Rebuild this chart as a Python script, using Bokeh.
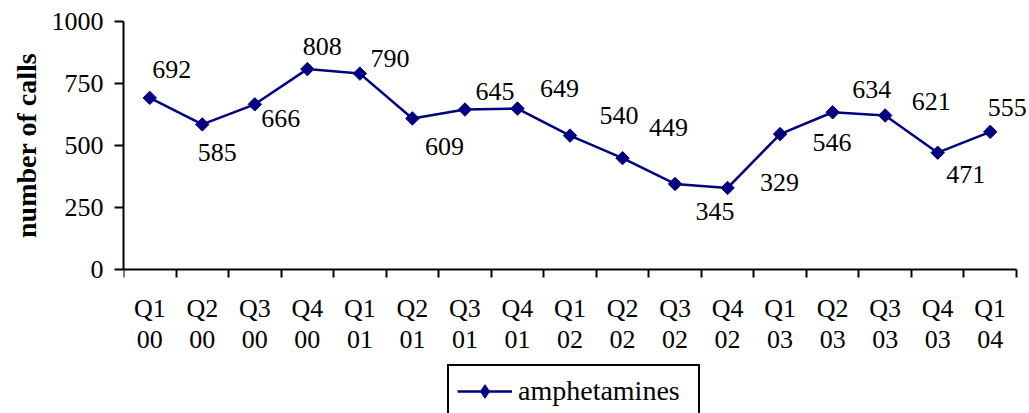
import numpy as np
from bokeh.plotting import figure
from bokeh.models import (ColumnDataSource, LinearAxis, FixedTicker, Range1d,
                          Legend, LegendItem, Title)
from bokeh.core.properties import value
from bokeh.embed import file_html
from bokeh.resources import INLINE

# ---------------- data ----------------
quarters = ["Q1", "Q2", "Q3", "Q4", "Q1", "Q2", "Q3", "Q4", "Q1", "Q2", "Q3", "Q4",
            "Q1", "Q2", "Q3", "Q4", "Q1"]
years = ["00", "00", "00", "00", "01", "01", "01", "01", "02", "02", "02", "02",
         "03", "03", "03", "03", "04"]
amphetamines = [692, 585, 666, 808, 790, 609, 645, 649, 540, 449, 345, 329,
                546, 634, 621, 471, 555]
y_ticks = [0, 250, 500, 750, 1000]
series_name = "amphetamines"
y_title = "number of calls"

# ---------------- style / layout ----------------
FONT = "Liberation Serif"
NAVY = "#000080"
# screen-pixel offsets of the value labels from their points (style only)
label_dx = [22, 15, 26, 15, 30, 32, 30, 42, 49, 46, 40, 52, 52, 39, 46, 28, 17]
label_dy = [-28, 28, 14, -23, -15, 28, -18, -20, -20, -31, 28, -5, 8, -23, -14, 22, -24]

W, H = 1029, 413
LEFT, TOP = 123, 21          # frame offsets
AXIS_W, AXIS_H = 893, 248    # pixel extent of the category axis / value axis
TITLE_LEN = 185              # approx. pixel length of the y title text

n = len(amphetamines)
y_max = y_ticks[-1]
frame_w = W - LEFT
frame_h = H - TOP
x_end = n * frame_w / AXIS_W
y_lo = y_max - y_max * frame_h / AXIS_H

xpos = [i + 0.5 for i in range(n)]

src = ColumnDataSource(dict(
    x=xpos, y=amphetamines, label=[str(v) for v in amphetamines],
    dx=label_dx, dy=label_dy))

p = figure(frame_width=frame_w, frame_height=frame_h,
           x_range=Range1d(0, x_end), y_range=Range1d(y_lo, y_max),
           output_backend="svg", toolbar_location=None, x_axis_location=None,
           min_border_left=LEFT, min_border_top=TOP, min_border_right=0,
           min_border_bottom=0,
           background_fill_color="white", border_fill_color="white",
           outline_line_color=None)
p.grid.visible = False

# y axis
ya = p.yaxis[0]
ya.ticker = FixedTicker(ticks=y_ticks, minor_ticks=[])
ya.bounds = (0, y_max)
ya.axis_line_width = 2
ya.axis_line_color = "black"
ya.major_tick_line_width = 2
ya.major_tick_out = 9
ya.major_tick_in = 0
ya.major_label_standoff = 11
ya.major_label_text_font = FONT
ya.major_label_text_font_size = "26px"
ya.major_label_text_color = "black"

# y title, centred on the value axis (not on the taller frame)
ytitle = Title(text=y_title, align="left",
               offset=frame_h - AXIS_H / 2 - TITLE_LEN / 2,
               text_font=FONT, text_font_size="28px", text_font_style="bold",
               text_color="black", standoff=14)
p.add_layout(ytitle, "left")

# x axis: quarter row with boundary ticks, fixed at y = 0
xa1 = LinearAxis(
    fixed_location=0, bounds=(0, n),
    ticker=FixedTicker(ticks=xpos, minor_ticks=list(range(n + 1))),
    major_label_overrides={xv: q for xv, q in zip(xpos, quarters)},
    axis_line_width=2, axis_line_color="black",
    major_tick_out=0, major_tick_in=0,
    minor_tick_out=8, minor_tick_in=0, minor_tick_line_width=2,
    minor_tick_line_color="black",
    major_label_standoff=16,
    major_label_text_font=FONT, major_label_text_font_size="26px",
    major_label_text_color="black")
p.add_layout(xa1, "below")

# x axis: year row
xa2 = LinearAxis(
    fixed_location=0, bounds=(0, n),
    ticker=FixedTicker(ticks=xpos, minor_ticks=[]),
    major_label_overrides={xv: y for xv, y in zip(xpos, years)},
    axis_line_color=None, major_tick_line_color=None, minor_tick_line_color=None,
    major_tick_out=0, major_tick_in=0,
    major_label_standoff=61,
    major_label_text_font=FONT, major_label_text_font_size="26px",
    major_label_text_color="black")
p.add_layout(xa2, "below")

# series
ln = p.line(x="x", y="y", source=src, line_color=NAVY, line_width=2.5)
# diamond used as the legend glyph (hidden beneath the square-diamonds)
dm = p.scatter(x="x", y="y", source=src, marker="diamond", size=11,
               fill_color=NAVY, line_color=NAVY)
pts = p.scatter(x="x", y="y", source=src, marker="square", angle=np.pi / 4,
                size=9.5, fill_color=NAVY, line_color=NAVY)

p.text(x="x", y="y", text="label", x_offset="dx", y_offset="dy", source=src,
       text_align="center", text_baseline="middle",
       text_font=value(FONT), text_font_size="26px", text_color="black")

legend = Legend(items=[LegendItem(label=series_name, renderers=[ln, dm])],
                location=(447 - LEFT, -5), orientation="horizontal",
                border_line_color="black", border_line_width=2,
                border_line_alpha=1.0,
                label_text_font=FONT, label_text_font_size="28px",
                label_text_color="black",
                glyph_width=55, glyph_height=34, label_height=30,
                label_width=172,
                label_standoff=6, padding=8, margin=0, spacing=0,
                background_fill_color="white", background_fill_alpha=1.0)
p.add_layout(legend, "center")

open("out.html", "w").write(file_html(p, INLINE))
